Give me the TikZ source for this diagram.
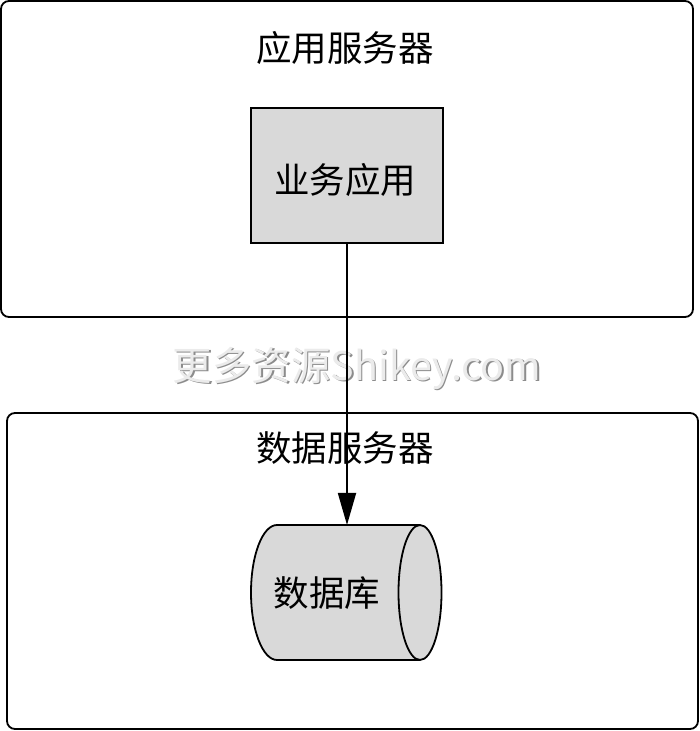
\documentclass[tikz,border=0pt]{standalone}
\usepackage{fontspec}
\newfontfamily\cjk{Noto Sans CJK SC}
\usetikzlibrary{arrows.meta}
\begin{document}
\begin{tikzpicture}[x=1pt,y=1pt,
  server/.style={draw=black,line width=1.8pt,rounded corners=8pt},
  appbox/.style={draw=black,line width=1.8pt,fill=boxgray},
  lbl/.style={font=\cjk\fontsize{35.5}{35.5}\selectfont,inner sep=0pt},
  wm/.style={font=\cjk\fontsize{39.5}{39.5}\selectfont,inner sep=0pt}]
\definecolor{boxgray}{HTML}{D9D9D9}
\useasboundingbox (0,0) rectangle (700,731);
% servers
\draw[server] (1,730) rectangle (693,414);
\draw[server] (7,318) rectangle (698,2);
\node[lbl] (t1) at (345,683) {应用服务器};
\node[lbl] (t2) at (345,283) {数据服务器};
% application box
\node[appbox,minimum width=192pt,minimum height=135pt,inner sep=0pt] (app) at (347,555.5) {};
\node[lbl] (applbl) at (345,551) {业务应用};
% database cylinder
\coordinate (dbtop) at (347,206);
\filldraw[fill=boxgray,draw=black,line width=1.8pt]
  (420,206) -- (277,206) arc[start angle=90,end angle=270,x radius=26,y radius=67.5]
  -- (420,71) arc[start angle=-90,end angle=90,x radius=21.5,y radius=67.5] -- cycle;
\draw[line width=1.8pt] (420,206) arc[start angle=90,end angle=270,x radius=21.5,y radius=67.5];
\node[lbl] (db) at (327,138) {数据库};
% watermark
\node[wm,text=black!45] (wms) at (358.5,361.5) {更多资源Shikey.com};
\node[wm,text=black!8] (wm) at (357,363) {更多资源Shikey.com};
% connector
\draw[line width=1.8pt,-{Triangle[length=32pt,width=18pt]}] (app.south) -- (dbtop);
\end{tikzpicture}
\end{document}
